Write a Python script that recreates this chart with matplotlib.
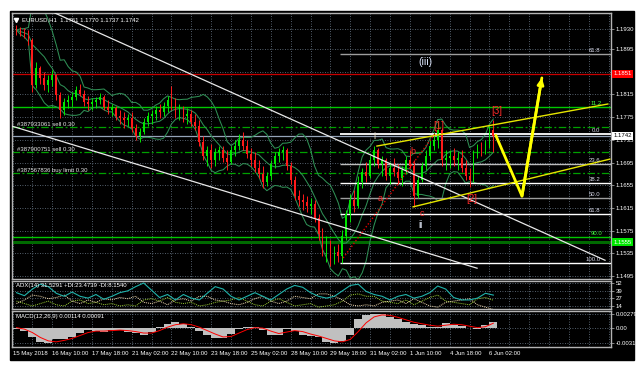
import numpy as np
import pandas as pd
import matplotlib
matplotlib.use('Agg')
import matplotlib.pyplot as plt
import matplotlib.transforms as mtrans
from matplotlib.patches import Rectangle

plt.rcParams['font.family'] = ['Liberation Sans', 'DejaVu Sans']

# ---------------- data (EURUSD) ----------------
title = 'EURUSD,H1  1.1761 1.1770 1.1737 1.1742'
date_labels = ['15 May 2018', '16 May 10:00', '17 May 18:00', '21 May 02:00', '22 May 10:00',
               '23 May 18:00', '25 May 02:00', '28 May 10:00', '29 May 18:00', '31 May 02:00',
               '1 Jun 10:00', '4 Jun 18:00', '6 Jun 02:00']
price_ticks = [1.1930, 1.1895, 1.1855, 1.1815, 1.1775, 1.1735, 1.1695, 1.1655,
               1.1615, 1.1575, 1.1535, 1.1495]
hidden_ticks = [1.1855]   # covered by the red price box

first_open = 1.1932
highs = [1.1937, 1.1934, 1.1932, 1.1928, 1.1914, 1.1872, 1.1865, 1.1854, 1.1849, 1.1858,
         1.1851, 1.1819, 1.1809, 1.1814, 1.1819, 1.1830, 1.1833, 1.1823, 1.1812, 1.1809,
         1.1810, 1.1817, 1.1814, 1.1805, 1.1798, 1.1794, 1.1787, 1.1784, 1.1780, 1.1784,
         1.1763, 1.1756, 1.1773, 1.1784, 1.1787, 1.1794, 1.1798, 1.1802, 1.1812, 1.1830,
         1.1809, 1.1798, 1.1794, 1.1791, 1.1787, 1.1780, 1.1770, 1.1742, 1.1724, 1.1728,
         1.1721, 1.1724, 1.1724, 1.1717, 1.1724, 1.1735, 1.1745, 1.1749, 1.1735, 1.1721,
         1.1714, 1.1699, 1.1689, 1.1678, 1.1699, 1.1714, 1.1721, 1.1724, 1.1721, 1.1696,
         1.1671, 1.1647, 1.1640, 1.1636, 1.1633, 1.1629, 1.1604, 1.1580, 1.1566, 1.1559,
         1.1548, 1.1552, 1.1576, 1.1611, 1.1640, 1.1647, 1.1671, 1.1685, 1.1696, 1.1706,
         1.1724, 1.1721, 1.1706, 1.1703, 1.1696, 1.1703, 1.1692, 1.1689, 1.1706, 1.1717,
         1.1699, 1.1671, 1.1696, 1.1717, 1.1735, 1.1749, 1.1766, 1.1756, 1.1717, 1.1717,
         1.1721, 1.1714, 1.1717, 1.1699, 1.1685, 1.1717, 1.1728, 1.1731, 1.1735, 1.1759,
         1.1770]
lows = [1.1919, 1.1918, 1.1914, 1.1902, 1.1819, 1.1826, 1.1833, 1.1823, 1.1819, 1.1830,
        1.1805, 1.1773, 1.1779, 1.1791, 1.1794, 1.1805, 1.1812, 1.1794, 1.1787, 1.1787,
        1.1791, 1.1798, 1.1787, 1.1780, 1.1777, 1.1770, 1.1763, 1.1756, 1.1759, 1.1749,
        1.1735, 1.1731, 1.1745, 1.1759, 1.1763, 1.1770, 1.1773, 1.1777, 1.1784, 1.1787,
        1.1773, 1.1770, 1.1766, 1.1763, 1.1759, 1.1752, 1.1724, 1.1699, 1.1689, 1.1685,
        1.1689, 1.1699, 1.1696, 1.1682, 1.1692, 1.1706, 1.1717, 1.1717, 1.1703, 1.1689,
        1.1678, 1.1668, 1.1650, 1.1654, 1.1664, 1.1685, 1.1696, 1.1699, 1.1682, 1.1657,
        1.1629, 1.1618, 1.1611, 1.1608, 1.1604, 1.1590, 1.1559, 1.1530, 1.1520, 1.1513,
        1.1516, 1.1520, 1.1518, 1.1559, 1.1590, 1.1608, 1.1615, 1.1650, 1.1661, 1.1668,
        1.1689, 1.1685, 1.1671, 1.1664, 1.1657, 1.1671, 1.1657, 1.1654, 1.1675, 1.1685,
        1.1617, 1.1633, 1.1661, 1.1682, 1.1699, 1.1717, 1.1721, 1.1689, 1.1682, 1.1685,
        1.1689, 1.1682, 1.1678, 1.1664, 1.1652, 1.1661, 1.1703, 1.1706, 1.1710, 1.1721,
        1.1714]
closes = [1.1928, 1.1923, 1.1919, 1.1911, 1.1831, 1.1861, 1.1844, 1.1831, 1.1840, 1.1849,
          1.1814, 1.1787, 1.1802, 1.1805, 1.1810, 1.1823, 1.1816, 1.1802, 1.1798, 1.1802,
          1.1805, 1.1810, 1.1793, 1.1787, 1.1791, 1.1777, 1.1773, 1.1770, 1.1773, 1.1756,
          1.1742, 1.1749, 1.1766, 1.1777, 1.1780, 1.1787, 1.1784, 1.1794, 1.1805, 1.1798,
          1.1784, 1.1787, 1.1777, 1.1780, 1.1766, 1.1759, 1.1731, 1.1706, 1.1717, 1.1699,
          1.1714, 1.1717, 1.1703, 1.1696, 1.1717, 1.1724, 1.1735, 1.1724, 1.1710, 1.1699,
          1.1685, 1.1675, 1.1661, 1.1671, 1.1692, 1.1706, 1.1714, 1.1717, 1.1689, 1.1664,
          1.1636, 1.1629, 1.1626, 1.1618, 1.1622, 1.1597, 1.1569, 1.1541, 1.1552, 1.1527,
          1.1538, 1.1530, 1.1566, 1.1604, 1.1629, 1.1618, 1.1661, 1.1678, 1.1671, 1.1699,
          1.1717, 1.1692, 1.1699, 1.1671, 1.1685, 1.1678, 1.1668, 1.1682, 1.1699, 1.1689,
          1.1636, 1.1664, 1.1689, 1.1706, 1.1724, 1.1735, 1.1752, 1.1699, 1.1703, 1.1706,
          1.1699, 1.1703, 1.1685, 1.1671, 1.1664, 1.1710, 1.1721, 1.1717, 1.1728, 1.1752,
          1.1742]

# horizontal levels
red_level = 1.1851
green_levels = [1.1793, 1.1564]
green_box_level = 1.1555
last_price = 1.1742
orders = [(1.1758, '#387933061 sell 0.30'),
          (1.1713, '#387900751 sell 0.30'),
          (1.1677, '#387567836 buy limit 0.30')]

# fibonacci (29 May low -> 0.0)
fib_low, fib_high = 1.1518, 1.1746
fib_start = 82.4
fib_ratios = [0.0, 23.6, 38.2, 50.0, 61.8, 100.0, 161.8]
fib_names = ['0.0', '23.6', '38.2', '50.0', '61.8', '100.0', '61.8']

# drawn objects: (bar index, price)
channel_upper = [(10.7, 1.1958), (149.1, 1.1523)]
channel_lower = [(-0.1, 1.1759), (116.9, 1.1509)]
yellow_upper = [(91.7, 1.1724), (149.8, 1.1798)]
yellow_lower = [(100.8, 1.1617), (150.3, 1.1701)]
projection = [(121.6, 1.1743), (128.2, 1.1636), (133.2, 1.1844)]
red_dotted = [(83.2, 1.1527), (107.5, 1.1757)]
wave_labels = [('(iii)', 103.8, 1.1872, '#dfe8ff', 7.5),
               ('[1]', 107.3, 1.1760, '#ff2a2a', 7.0),
               ('[2]', 115.6, 1.1631, '#ff2a2a', 7.0),
               ('[3]', 121.9, 1.1786, '#ff2a2a', 7.0),
               ('a', 92.5, 1.1631, '#ff2a2a', 6.5),
               ('b', 100.8, 1.1714, '#ff2a2a', 6.5),
               ('c', 103.0, 1.1606, '#ff2a2a', 6.5),
               ('i', 91.0, 1.1740, '#e8dcc0', 6.5),
               ('ii', 102.6, 1.1585, '#e8f0ff', 7.0)]

# ADX(14) and MACD(12,26,9), sampled every second bar
adx_main = [36, 31, 42, 50, 46, 35, 30, 37, 30, 27, 33, 25, 30, 36, 39, 46, 52, 40, 28, 33,
            24, 33, 27, 24, 35, 46, 42, 30, 24, 30, 36, 30, 24, 33, 42, 48, 45, 36, 30, 27,
            30, 39, 48, 50, 38, 33, 30, 24, 30, 33, 27, 30, 36, 47, 42, 28, 24, 24, 27, 35, 32]
adx_plus = [22, 18, 14, 18, 22, 16, 14, 22, 24, 18, 20, 16, 18, 14, 16, 14, 24, 26, 22, 28,
            20, 18, 20, 14, 16, 20, 22, 24, 28, 22, 16, 14, 22, 26, 20, 14, 16, 18, 12, 14,
            16, 22, 32, 34, 30, 30, 22, 20, 18, 24, 16, 22, 28, 32, 22, 20, 18, 16, 26, 28, 23.5]
adx_minus = [18, 24, 32, 30, 26, 28, 32, 22, 18, 24, 20, 26, 24, 28, 26, 30, 20, 18, 22, 16,
             24, 26, 22, 30, 30, 24, 22, 18, 16, 20, 26, 30, 22, 18, 22, 30, 28, 26, 34, 34,
             30, 24, 16, 14, 16, 14, 20, 22, 24, 18, 26, 20, 14, 12, 20, 22, 24, 26, 16, 12, 8.2]
macd_main = [-0.0002, -0.0006, -0.0020, -0.0029, -0.0031, -0.0024, -0.0023, -0.0020, -0.0010, -0.0005,
             -0.0007, -0.0008, -0.0005, -0.0004, -0.0008, -0.0011, -0.0014, -0.0008, 0.0002, 0.0008,
             0.0011, 0.0007, 0.0002, -0.0006, -0.0014, -0.0021, -0.0022, -0.0012, -0.0002, 0.0002,
             0.0001, -0.0004, -0.0015, -0.0014, -0.0002, -0.0006, -0.0014, -0.0018, -0.0020, -0.0029,
             -0.00313, -0.0027, -0.0015, 0.0018, 0.0026, 0.00279, 0.0027, 0.0022, 0.0017, 0.0011,
             0.0008, 0.0006, 0.0002, 0.0002, 0.0010, 0.0006, 0.0003, 0.0000, -0.0003, 0.0006, 0.00114]
macd_signal = [0.0000, -0.0003, -0.0010, -0.0020, -0.0027, -0.0029, -0.0026, -0.0022, -0.0016, -0.0010,
               -0.0007, -0.0007, -0.0006, -0.0005, -0.0006, -0.0008, -0.0011, -0.0011, -0.0006, 0.0001,
               0.0006, 0.0008, 0.0006, 0.0001, -0.0006, -0.0013, -0.0019, -0.0018, -0.0011, -0.0004,
               0.0000, -0.0001, -0.0007, -0.0012, -0.0009, -0.0006, -0.0008, -0.0013, -0.0017, -0.0022,
               -0.0027, -0.0029, -0.0024, -0.0008, 0.0010, 0.0022, 0.0026, 0.0025, 0.0021, 0.0016,
               0.0011, 0.0008, 0.0005, 0.0003, 0.0005, 0.0007, 0.0006, 0.0003, 0.0000, 0.0002, 0.00091]

# ---------------- layout helpers ----------------
W, H = 642, 370
def px_rect(x0, y0, x1, y1):
    return [x0 / W, 1 - y1 / H, (x1 - x0) / W, (y1 - y0) / H]

XLIM = (-0.13, 150.6)
GRID = dict(color='#6f7f8f', linestyle=(0, (1, 2)), linewidth=0.6)
FS = 4.3
FRAME = '#b4b4b4'

fig = plt.figure(figsize=(6.42, 3.70), dpi=100, facecolor='white')
# black terminal window behind the panes
fig.patches.append(Rectangle((10 / W, 1 - 360 / H), 624 / W, 349 / H,
                             transform=fig.transFigure, color='black', zorder=-10))

def style_pane(ax, ylim, yticks, ylabels):
    ax.set_facecolor('black')
    ax.set_xlim(*XLIM)
    ax.set_ylim(*ylim)
    ax.set_xticks(np.arange(0, 151, 5))
    ax.yaxis.tick_right()
    ax.set_yticks(yticks)
    ax.set_yticklabels(ylabels)
    ax.tick_params(axis='y', colors='#9a9a9a', labelcolor='white', labelsize=FS,
                   length=2, width=0.6, pad=1.5)
    ax.tick_params(axis='x', length=0, labelbottom=False)
    ax.grid(True, **GRID)
    ax.set_axisbelow(True)
    for s in ax.spines.values():
        s.set_color(FRAME)
        s.set_linewidth(1.0)

# ---------------- price pane ----------------
ax = fig.add_axes(px_rect(12, 13, 611, 279))
style_pane(ax, (1.1490, 1.19582), price_ticks,
           ['' if v in hidden_ticks else f'{v:.4f}' for v in price_ticks])

idx = np.arange(1, len(closes) + 1)
c = np.array(closes)
o = np.array([first_open] + closes[:-1])
up = c >= o
cols = np.where(up, '#00e600', '#ff1a1a')
ax.vlines(idx, lows, highs, colors=cols, linewidth=0.7, zorder=3)
ax.bar(idx, np.abs(c - o) + 0.00002, bottom=np.minimum(o, c), width=0.45,
       color=cols, zorder=3)

# Bollinger bands (computed from the closes, ~20 hourly bars)
s = pd.Series(closes)
mid = s.rolling(8, min_periods=1).mean()
sd = s.rolling(8, min_periods=1).std(ddof=0)
for band in (mid + 2 * sd, mid, mid - 2 * sd):
    ax.plot(idx, band, color='#2f8f55', linewidth=0.75, zorder=2.5)

bt = mtrans.blended_transform_factory(ax.transAxes, ax.transData)

ax.axhline(red_level, color='#c80000', linewidth=0.9, zorder=2)
for lv in green_levels:
    ax.axhline(lv, color='#00c800', linewidth=1.0, zorder=2)
ax.axhline(green_box_level, color='#006a00', linewidth=2.2, zorder=2)
ax.axhline(last_price, color='#95a3b8', linewidth=0.9, zorder=2)
ax.text(0.985, green_levels[0] + 0.0002, '11.2', transform=bt, color='#40ff40',
        fontsize=FS, ha='right', va='bottom')
ax.text(0.985, green_levels[1] + 0.0002, '90.0', transform=bt, color='#40ff40',
        fontsize=FS, ha='right', va='bottom')

for lv, lab in orders:
    ax.axhline(lv, color='#00a000', linewidth=0.9, linestyle=(0, (6, 2, 1.5, 2)), zorder=2)
    ax.text(0.008, lv, lab, transform=bt, color='#e6e6e6', fontsize=FS,
            ha='left', va='bottom', zorder=4)

# fibonacci levels
fib_cols = ['white', '#bdbdbd', 'white', '#9e9e9e', 'white', 'white', '#9e9e9e']
for r, name, col in zip(fib_ratios, fib_names, fib_cols):
    lv = fib_high - (fib_high - fib_low) * r / 100.0 if r <= 100 else \
        fib_high + (fib_high - fib_low) * (r - 100) / 100.0
    ax.hlines(lv, fib_start, XLIM[1], colors=col, linewidth=1.3 if r == 0 else 1.0, zorder=2.6)
    ax.text(147.9, lv + 0.00015, name, color='#d8d8e8', fontsize=FS, ha='right',
            va='bottom', zorder=4)

# trend lines
for pts, col, lw in [(channel_upper, '#e8e8e8', 0.9), (channel_lower, '#e8e8e8', 0.9),
                     (yellow_upper, '#e6e600', 1.0), (yellow_lower, '#e6e600', 1.0)]:
    xs, ys = zip(*pts)
    ax.plot(xs, ys, color=col, linewidth=lw, zorder=3.5)
xs, ys = zip(*red_dotted)
ax.plot(xs, ys, color='#e00000', linewidth=1.0, linestyle=(0, (1, 1.5)), zorder=3.5)

xs, ys = zip(*projection)
ax.plot(xs, ys, color='#ffff00', linewidth=2.0, zorder=4, solid_capstyle='round')
ax.annotate('', xy=projection[-1], xytext=projection[-2],
            arrowprops=dict(arrowstyle='-|>', color='#ffff00', lw=2.0,
                            mutation_scale=9, shrinkA=0, shrinkB=0), zorder=4)

for txt, x, y, col, fs in wave_labels:
    ax.text(x, y, txt, color=col, fontsize=fs, ha='center', va='center', zorder=5)

# price boxes on the scale
for lv, lab, fc, tc in [(red_level, '1.1851', '#ff0000', 'white'),
                        (last_price, '1.1742', 'white', 'black'),
                        (green_box_level, '1.1555', '#00e600', 'white')]:
    ax.text(1.004, lv, lab, transform=bt, color=tc, fontsize=FS, ha='left', va='center',
            clip_on=False, zorder=6,
            bbox=dict(boxstyle='square,pad=0.2', fc=fc, ec='none'))

ax.plot([0.007], [0.975], transform=ax.transAxes, marker='v', color='white',
        markersize=3, linestyle='none', clip_on=False)
ax.text(0.016, 0.975, title, transform=ax.transAxes, color='white', fontsize=FS,
        ha='left', va='center')
ax.plot([len(closes)], [1.0], transform=bt, marker='v', color='#9a9a9a',
        markersize=3.5, clip_on=False, zorder=6)

# ---------------- ADX pane ----------------
ind_x = np.arange(1, len(closes) + 1, 2)
ax2 = fig.add_axes(px_rect(12, 281, 611, 309))
style_pane(ax2, (9.0, 55.3), [52, 39, 27, 14], ['52', '39', '27', '14'])
ax2.plot(ind_x, adx_plus, color='#9acd32', linewidth=0.7, linestyle=(0, (1, 1)))
ax2.plot(ind_x, adx_minus, color='#f5deb3', linewidth=0.7, linestyle=(0, (1, 1)))
ax2.plot(ind_x, adx_main, color='#20b2aa', linewidth=0.8)
ax2.text(0.006, 0.93, 'ADX(14) 31.5291 +DI:23.4739 -DI:8.1540', transform=ax2.transAxes,
         color='white', fontsize=FS, ha='left', va='top')

# ---------------- MACD pane ----------------
ax3 = fig.add_axes(px_rect(12, 311, 611, 347))
style_pane(ax3, (-0.00395, 0.0034), [0.00279, 0.0, -0.00313], ['0.00279', '0.00', '-0.00313'])
ax3.bar(ind_x, macd_main, width=2.0, color='#c0c0c0', linewidth=0, zorder=2)
ax3.plot(ind_x, macd_signal, color='#ff0000', linewidth=0.7, zorder=3)
ax3.text(0.006, 0.93, 'MACD(12,26,9) 0.00114 0.00091', transform=ax3.transAxes,
         color='white', fontsize=FS, ha='left', va='top')

xt = np.arange(0, 151, 5)
labs = []
for t in xt:
    k = t // 10
    labs.append(date_labels[k] if t % 10 == 0 and k < len(date_labels) else '')
ax3.set_xticks(xt)
ax3.set_xticklabels(labs)
ax3.tick_params(axis='x', labelbottom=True, labelsize=FS, labelcolor='white',
                length=0, pad=3)
for t in ax3.get_xticklabels():
    t.set_ha('left')

fig.savefig('out.png', dpi=100, facecolor='white')
